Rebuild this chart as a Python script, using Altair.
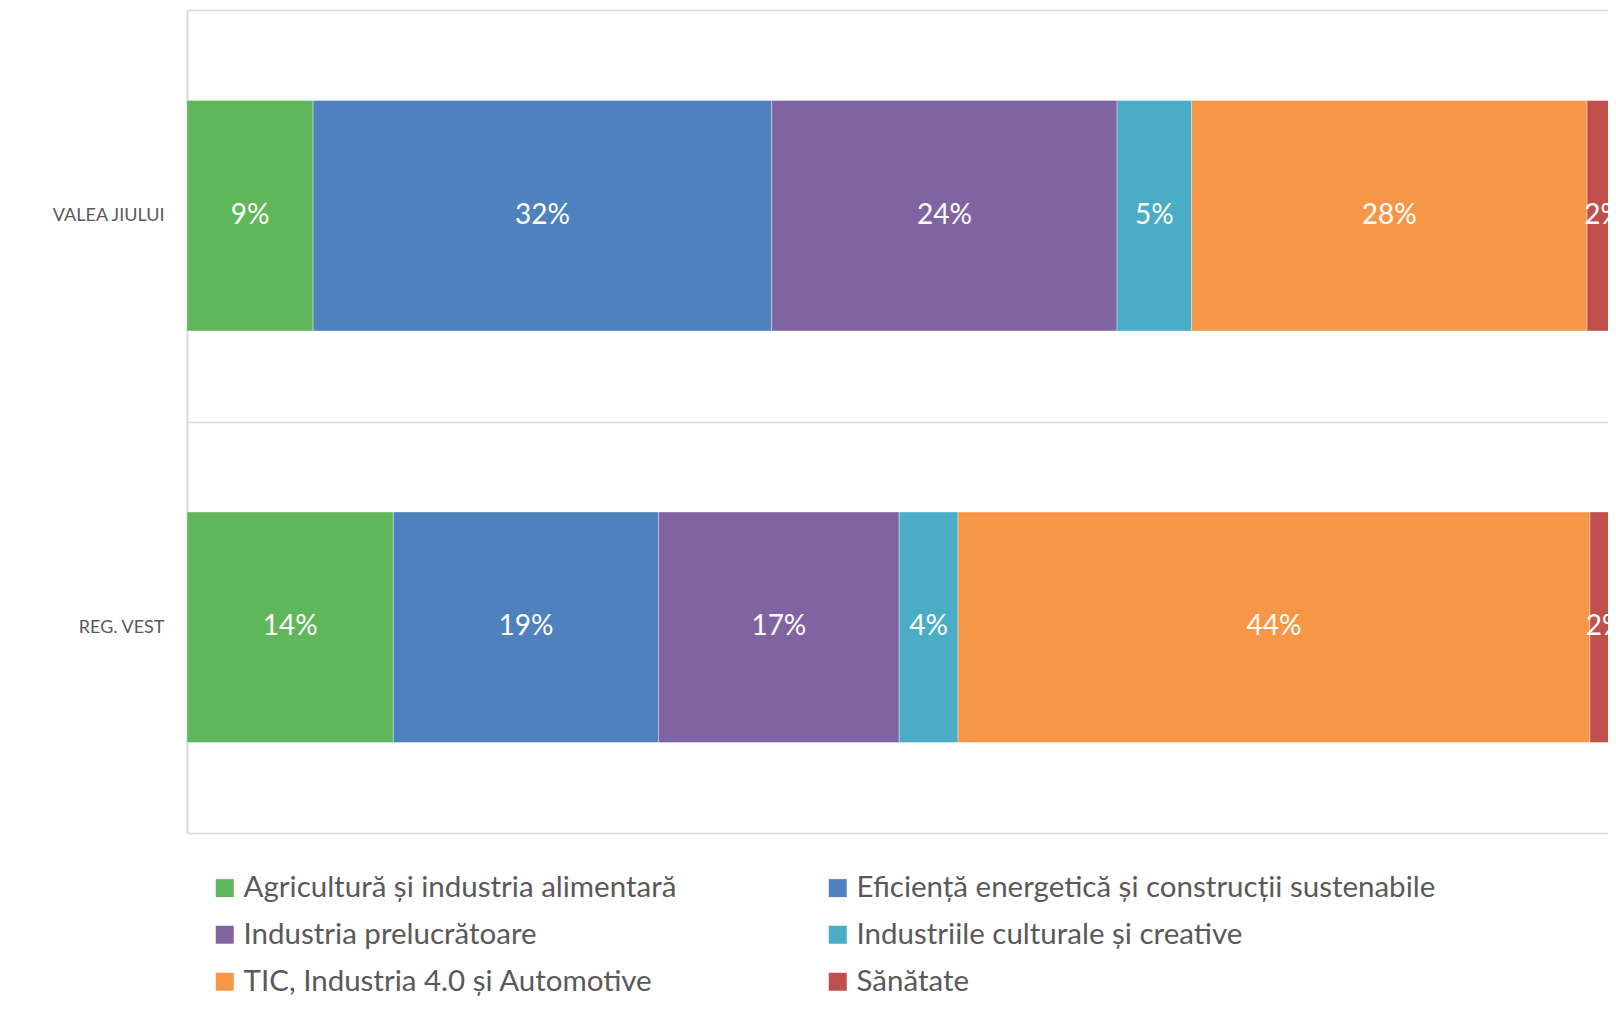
import altair as alt
import pandas as pd

regions = ["VALEA JIULUI", "REG. VEST"]
sectors = [
    "Agricultură și industria alimentară",
    "Eficiență energetică și construcții sustenabile",
    "Industria prelucrătoare",
    "Industriile culturale și creative",
    "TIC, Industria 4.0 și Automotive",
    "Sănătate",
]
colors = ["#60B65B", "#4F81BD", "#8064A2", "#4BACC6", "#F79646", "#C0504D"]
valea_jiului = [8.8, 32.0, 24.1, 5.2, 27.6, 2.3]
reg_vest = [14.4, 18.5, 16.8, 4.1, 44.1, 2.1]

rows = []
for r, vals in zip(regions, [valea_jiului, reg_vest]):
    for i, (s, v) in enumerate(zip(sectors, vals)):
        rows.append({"region": r, "sector": s, "idx": i, "value": v})
df = pd.DataFrame(rows)

X_MAX = 99.16  # the visible part of the axis (the chart is cut at the right edge)
FONT = "Lato"

base = alt.Chart(df).transform_stack(
    stack="value", groupby=["region"], sort=[alt.SortField("idx")], as_=["x0", "x1"]
).transform_calculate(
    mid="(datum.x0 + datum.x1) / 2", label="round(datum.value) + '%'"
)

xscale = alt.Scale(domain=[0, X_MAX], nice=False, zero=True)
y = alt.Y(
    "region:N", sort=regions, title=None,
    scale=alt.Scale(paddingInner=0, paddingOuter=0),
    axis=alt.Axis(tickBand="extent", grid=True, ticks=False, domain=True,
                  gridColor="#d9d9d9", gridWidth=1.5, domainColor="#d9d9d9",
                  domainWidth=2, labelFont=FONT, labelFontSize=18,
                  labelColor="#595959", labelPadding=23),
)

bars = base.mark_bar(
    height={"band": 0.56}, clip=True, stroke="white", strokeWidth=0.7, strokeOpacity=0.5
).encode(
    x=alt.X("x0:Q", scale=xscale, axis=None),
    x2="x1:Q",
    y=y,
    color=alt.Color(
        "sector:N", sort=sectors,
        scale=alt.Scale(domain=sectors, range=colors),
        legend=alt.Legend(
            title=None, orient="none", legendX=23, legendY=863, columns=2,
            direction="horizontal",
            columnPadding=146, rowPadding=16, symbolType="square", symbolSize=324,
            symbolStrokeWidth=0, symbolOpacity=1, labelFont=FONT, labelFontSize=29.5,
            labelColor="#595959", labelLimit=900, labelOffset=4,
        ),
    ),
)

text = base.mark_text(
    clip=True, color="white", font=FONT, fontSize=28, baseline="middle"
).encode(
    x=alt.X("mid:Q", scale=xscale, axis=None),
    y=y,
    text="label:N",
)

chart = alt.layer(bars, text).properties(
    width=1421, height=823,
    padding={"left": 179, "top": 2, "right": 0, "bottom": 167},
    autosize=alt.AutoSizeParams(type="none"),
).configure_view(stroke=None)

chart.save("out.html", embed_options={"renderer": "svg", "actions": False})
